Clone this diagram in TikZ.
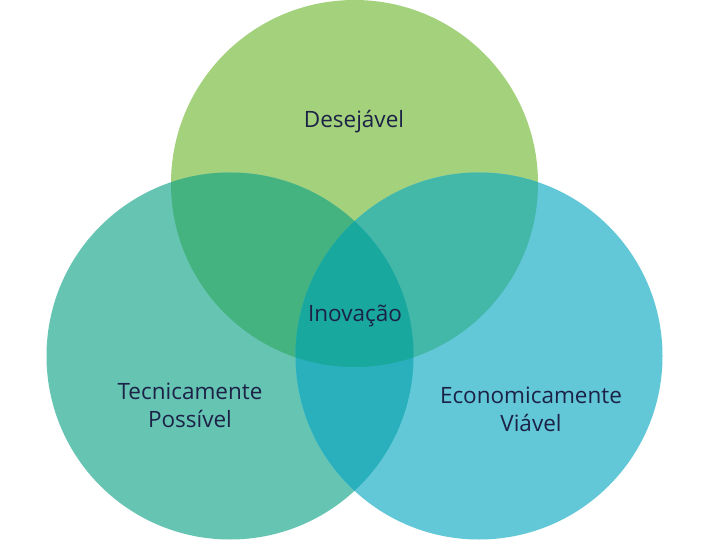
\documentclass[tikz,border=0pt]{standalone}
\usepackage{fontspec}
\setmainfont{Open Sans}
\definecolor{greenonly}{HTML}{A4D17B}
\definecolor{tealonly}{HTML}{66C4B3}
\definecolor{blueonly}{HTML}{62C8D8}
\definecolor{greenteal}{HTML}{45B380}
\definecolor{greenblue}{HTML}{43B7A8}
\definecolor{tealblue}{HTML}{2AB0BC}
\definecolor{allthree}{HTML}{19A89E}
\definecolor{labelink}{HTML}{1B2246}
\tikzset{
  lbl/.style={text=labelink, font=\fontsize{22.5}{28}\selectfont, align=center, inner sep=0pt}
}
\begin{document}
\begin{tikzpicture}[x=1pt,y=-1pt]
  \useasboundingbox (0,0) rectangle (720,540);
  \fill[white] (0,0) rectangle (720,540);
  % circle centres
  \coordinate (cg) at (354.5,183.5);
  \coordinate (ct) at (230,356);
  \coordinate (cb) at (479,356);
  \def\rad{183.5}
  % single sets
  \fill[greenonly] (cg) circle[radius=\rad];
  \fill[tealonly] (ct) circle[radius=\rad];
  \fill[blueonly] (cb) circle[radius=\rad];
  % pairwise overlaps with the top circle
  \begin{scope}
    \clip (cg) circle[radius=\rad];
    \fill[greenteal] (ct) circle[radius=\rad];
    \fill[greenblue] (cb) circle[radius=\rad];
  \end{scope}
  % overlap of the two lower circles, and the common centre
  \begin{scope}
    \clip (ct) circle[radius=\rad];
    \fill[tealblue] (cb) circle[radius=\rad];
    \clip (cg) circle[radius=\rad];
    \fill[allthree] (cb) circle[radius=\rad];
  \end{scope}
  % labels
  \node[lbl] (desejavel) at (354,122) {Desejável};
  \node[lbl] (inovacao) at (355,316) {Inovação};
  \node[lbl] (tecnica) at (190,405) {Tecnicamente\\Possível};
  \node[lbl] (economica) at (531,409) {Economicamente\\Viável};
\end{tikzpicture}
\end{document}
